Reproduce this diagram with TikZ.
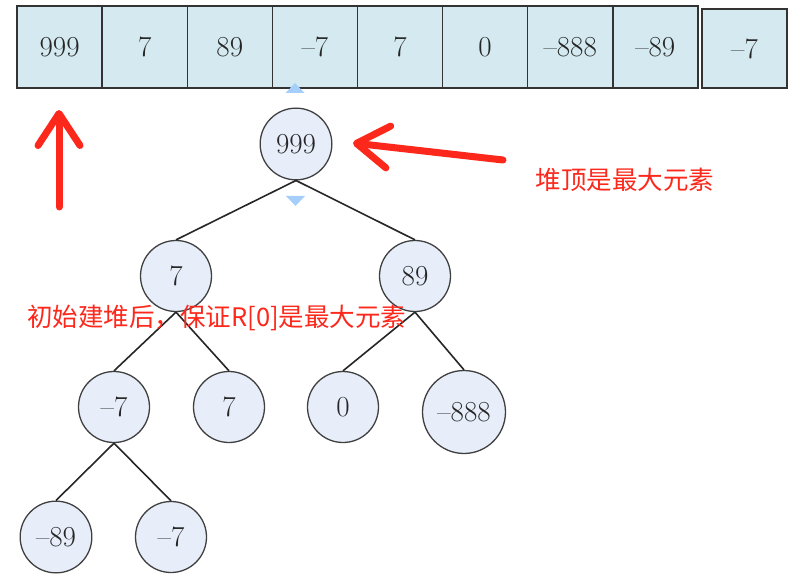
\documentclass[tikz,border=0pt]{standalone}
\usepackage{fontspec}
\newfontfamily\cjk{Noto Sans CJK SC}
\usetikzlibrary{arrows.meta}
\definecolor{cellfill}{RGB}{212,234,240}
\definecolor{nodefill}{RGB}{231,238,249}
\definecolor{markred}{RGB}{252,40,28}
\definecolor{tiblue}{RGB}{165,207,250}
\begin{document}
\begin{tikzpicture}[x=1pt,y=-1pt,
  cell/.style={rectangle,draw=black!80,fill=cellfill,line width=1.4pt,minimum width=85pt,minimum height=82pt,inner sep=0pt,font=\fontsize{29}{33}\selectfont,text=black!85},
  heap node/.style={circle,draw=black!75,fill=nodefill,line width=1.3pt,minimum size=71pt,inner sep=10pt,font=\fontsize{29}{33}\selectfont,text=black!85},
  note/.style={font=\cjk\fontsize{25.5}{29}\selectfont,text=markred,inner sep=0pt},
  red arrow/.style={draw=markred,line width=7pt,line cap=round,-{Straight Barb[length=32pt,width=42pt,round]}}]
  \useasboundingbox (0,0) rectangle (800,577);

  % array R[0..8]
  \node[cell] (a0) at (59.6,47) {999};
  \node[cell] (a1) at (144.7,47) {7};
  \node[cell] (a2) at (229.8,47) {89};
  \node[cell] (a3) at (314.9,47) {\textendash7};
  \node[cell] (a4) at (400,47) {7};
  \node[cell] (a5) at (485.1,47) {0};
  \node[cell] (a6) at (570.2,47) {\textendash888};
  \node[cell] (a7) at (655.3,47) {\textendash89};
  \node[cell,minimum height=79pt] (a8) at (744.5,48.5) {\textendash7};

  % heap
  \node[heap node] (1) at (296,144) {999};
  \node[heap node] (2) at (176,276) {7};
  \node[heap node] (3) at (415,276) {89};
  \node[heap node] (4) at (114,407) {\textendash7};
  \node[heap node] (5) at (229,407) {7};
  \node[heap node] (6) at (343,407) {0};
  \node[heap node] (7) at (464,412) {\textendash888};
  \node[heap node] (8) at (56,537) {\textendash89};
  \node[heap node] (9) at (171,537) {\textendash7};

  \path[line width=1.6pt,draw=black!85]
   (1.south) edge (2.north)
   (1.south) edge (3.north)
   (2.south) edge (4.north)
   (2.south) edge (5.north)
   (3.south) edge (6.north)
   (3.south) edge (7.north)
   (4.south) edge (8.north)
   (4.south) edge (9.north);

  % small markers
  \fill[tiblue] (285.5,93) -- (295,83) -- (304.5,93) -- cycle;
  \fill[tiblue] (286,196) -- (305,196) -- (295.5,206) -- cycle;

  % notes
  \coordinate (up tail) at (59,207);
  \coordinate (up tip) at (59,110);
  \coordinate (top tail) at (503,160);
  \coordinate (top tip) at (353,143);
  \draw[red arrow] (up tail) -- (up tip);
  \draw[red arrow] (top tail) -- (top tip);
  \node[note] (top note) at (625,180) {堆顶是最大元素};
  \node[note,anchor=west] (build note) at (27,318) {初始建堆后，保证R[0]是最大元素};
\end{tikzpicture}
\end{document}
